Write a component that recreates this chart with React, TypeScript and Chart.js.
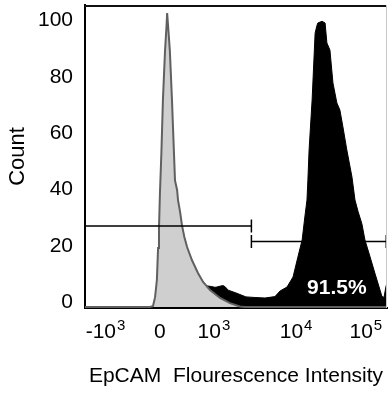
import React, { useEffect, useRef } from 'react';
import { Chart, registerables } from 'chart.js';

Chart.register(...registerables);

// Display scale: 0..1000 "channels" across the biexponential axis
const X_MIN = 0;
const X_MAX = 1000;
const Y_MIN = -0.35;
const Y_MAX = 107.3;

const Y_TICKS = [0, 20, 40, 60, 80, 100];

const X_TICK_POS = [68, 248, 427, 699, 930];
const X_TICK_BASE = ['-10', '0', '10', '10', '10'];
const X_TICK_EXP = ['3', '', '3', '4', '5'];

// Control (isotype) histogram
const GREY_X = [0, 215, 225, 232, 238, 242, 245, 248, 253, 258, 265, 270, 272, 275, 281, 288, 298, 305, 308, 315, 321, 329, 338, 354, 374, 391, 414, 447, 480, 513, 530, 1000];
const GREY_Y = [0, 0, 0.3, 3.5, 9.6, 21, 28, 40, 55, 73.5, 91, 100, 104.4, 100, 91, 73.5, 45, 41.6, 38, 33.7, 29.1, 24.9, 21.3, 16.7, 12.1, 8.9, 6, 3.2, 1.4, 0.2, 0, 0];

// EpCAM stained histogram
const BLACK_X = [225, 240, 260, 300, 350, 390, 404, 418, 430, 437, 447, 457, 464, 474, 500, 533, 560, 596, 629, 646, 669, 689, 705, 719, 728, 735, 738, 742, 752, 762, 768, 771, 785, 795, 801, 811, 821, 834, 844, 854, 867, 884, 894, 904, 917, 927, 944, 960, 977, 983, 990, 997, 1000];
const BLACK_Y = [0, 3, 4.5, 5.5, 6.5, 7.2, 7.5, 7.3, 7.0, 7.1, 7.4, 7.6, 7.2, 6, 5, 3.6, 3.4, 3.2, 3.7, 5.7, 7.1, 10.7, 17.8, 23.8, 32, 38, 45, 55.8, 73.5, 97.3, 100, 100.9, 101.5, 100.9, 93.8, 91.3, 79.6, 72.5, 70, 64, 55.8, 46.2, 38, 34, 29.5, 23.8, 17.8, 12, 6, 3.8, 3.4, 7.5, 8.5];

// Gates
const GATE_FROM = [0, 551];
const GATE_TO = [551, 1000];
const GATE_Y = [28.8, 23.3];
const GATE_CAP_START = [false, true];
const GATE_CAP_END = [true, true];

const PCT_LABEL = '91.5%';
const PCT_X = 834;
const PCT_Y = 6.75;

const FONT = '"Liberation Sans", Arial, Helvetica, sans-serif';

const toPoints = (xs: number[], ys: number[]) => xs.map((x, i) => ({ x, y: ys[i] }));

const overlayPlugin = {
  id: 'overlay',
  afterDatasetsDraw(chart: any) {
    const { ctx, chartArea } = chart;
    const xs = chart.scales.x;
    const ys = chart.scales.y;
    ctx.save();
    ctx.strokeStyle = '#000';
    ctx.lineWidth = 1.5;
    for (let i = 0; i < GATE_FROM.length; i++) {
      const x1 = xs.getPixelForValue(GATE_FROM[i]);
      const x2 = Math.min(xs.getPixelForValue(GATE_TO[i]), chartArea.right - 0.75);
      const y = ys.getPixelForValue(GATE_Y[i]);
      ctx.beginPath();
      ctx.moveTo(x1, y);
      ctx.lineTo(x2, y);
      if (GATE_CAP_START[i]) {
        ctx.moveTo(x1, y - 6.5);
        ctx.lineTo(x1, y + 6.5);
      }
      if (GATE_CAP_END[i]) {
        ctx.moveTo(x2, y - 6.5);
        ctx.lineTo(x2, y + 6.5);
      }
      ctx.stroke();
    }
    ctx.fillStyle = '#fff';
    ctx.font = 'bold 21px ' + FONT;
    ctx.textAlign = 'center';
    ctx.textBaseline = 'middle';
    ctx.fillText(PCT_LABEL, xs.getPixelForValue(PCT_X), ys.getPixelForValue(PCT_Y));
    ctx.restore();
  },
  afterDraw(chart: any) {
    const { ctx, chartArea } = chart;
    const xs = chart.scales.x;
    ctx.save();
    ctx.strokeStyle = '#111';
    ctx.lineWidth = 2;
    ctx.beginPath();
    ctx.moveTo(chartArea.left, chartArea.top + 1);
    ctx.lineTo(chartArea.right, chartArea.top + 1);
    ctx.stroke();
    ctx.strokeStyle = '#c8c8c8';
    ctx.lineWidth = 1;
    ctx.beginPath();
    ctx.moveTo(chartArea.right - 0.5, chartArea.top);
    ctx.lineTo(chartArea.right - 0.5, chartArea.bottom);
    ctx.stroke();
    ctx.fillStyle = '#000';
    ctx.textBaseline = 'alphabetic';
    ctx.textAlign = 'left';
    const baseY = chartArea.bottom + 30;
    for (let i = 0; i < X_TICK_POS.length; i++) {
      ctx.font = '21px ' + FONT;
      const wb = ctx.measureText(X_TICK_BASE[i]).width;
      ctx.font = '15px ' + FONT;
      const we = X_TICK_EXP[i] ? ctx.measureText(X_TICK_EXP[i]).width + 1 : 0;
      const cx = xs.getPixelForValue(X_TICK_POS[i]);
      const x0 = cx - (wb + we) / 2;
      ctx.font = '21px ' + FONT;
      ctx.fillText(X_TICK_BASE[i], x0, baseY);
      if (X_TICK_EXP[i]) {
        ctx.font = '15px ' + FONT;
        ctx.fillText(X_TICK_EXP[i], x0 + wb + 1, baseY - 8);
      }
    }
    ctx.restore();
  },
};

export default function App() {
  const ref = useRef<HTMLCanvasElement | null>(null);
  useEffect(() => {
    if (!ref.current) return;
    Chart.defaults.font.family = FONT;
    Chart.defaults.color = '#000';
    const chart = new Chart(ref.current, {
      type: 'line',
      data: {
        datasets: [
          {
            label: 'Control',
            data: toPoints(GREY_X, GREY_Y),
            borderColor: '#606060',
            backgroundColor: '#cfcfcf',
            borderWidth: 2,
            pointRadius: 0,
            fill: 'origin',
            tension: 0,
          },
          {
            label: 'EpCAM',
            data: toPoints(BLACK_X, BLACK_Y),
            borderColor: '#000',
            backgroundColor: '#000',
            borderWidth: 1,
            pointRadius: 0,
            fill: 'origin',
            tension: 0,
          },
        ],
      },
      options: {
        animation: false,
        responsive: false,
        events: [],
        layout: { padding: { top: 5, right: 1, left: 0, bottom: 0 } },
        plugins: { legend: { display: false }, tooltip: { enabled: false } },
        scales: {
          x: {
            type: 'linear',
            min: X_MIN,
            max: X_MAX,
            grid: { display: false },
            border: { display: true, color: '#000', width: 2 },
            ticks: { display: false },
            title: {
              display: true,
              text: 'EpCAM  Flourescence Intensity',
              font: { size: 21 },
              padding: { top: 0, bottom: 7 },
            },
            afterFit: (s: any) => {
              s.height = 88;
              s.paddingLeft = 0;
              s.paddingRight = 0;
            },
          },
          y: {
            type: 'linear',
            min: Y_MIN,
            max: Y_MAX,
            grid: { display: false },
            border: { display: true, color: '#000', width: 2 },
            ticks: { font: { size: 21 }, padding: 4, labelOffset: -5 },
            afterBuildTicks: (s: any) => {
              s.ticks = Y_TICKS.map((v) => ({ value: v }));
            },
            title: {
              display: true,
              text: 'Count',
              font: { size: 22 },
              padding: { top: 5, bottom: 0 },
            },
            afterFit: (s: any) => {
              s.width = 85;
              s.paddingTop = 0;
              s.paddingBottom = 0;
            },
          },
        },
      },
      plugins: [overlayPlugin],
    });
    return () => chart.destroy();
  }, []);
  return (
    <div style={{ position: 'absolute', left: 0, top: 0, width: 388, height: 396 }}>
      <canvas ref={ref} width={388} height={396} />
    </div>
  );
}
